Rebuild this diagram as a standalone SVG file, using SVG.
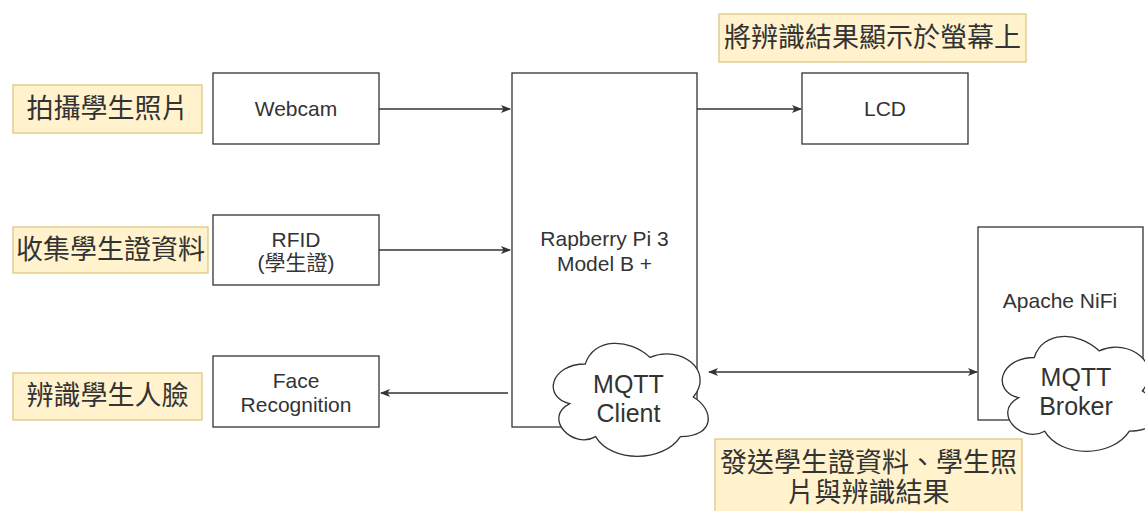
<svg xmlns="http://www.w3.org/2000/svg" width="1145" height="511" viewBox="0 0 1145 511">
<style>
.box{fill:#ffffff;stroke:#333333;stroke-width:1.3}
.note{fill:#fff2cc;stroke:#dcc27a;stroke-width:1.2}
.cloud{fill:#ffffff;stroke:#333333;stroke-width:1.3}
.t{font-family:"Liberation Sans","Noto Sans CJK TC",sans-serif;fill:#333333;text-anchor:middle;dominant-baseline:central}
.en{font-size:21px}
.mq{font-size:25px}
.zh{font-size:27px}
.edge{fill:none;stroke:#333333;stroke-width:1.3}
</style>
<defs>
<marker id="arr" markerWidth="10" markerHeight="8" refX="9" refY="4" orient="auto" markerUnits="userSpaceOnUse">
<path d="M0,0 L10,4 L0,8 L2.5,4 Z" fill="#333333"/>
</marker>
<marker id="arrs" markerWidth="10" markerHeight="8" refX="1" refY="4" orient="auto" markerUnits="userSpaceOnUse">
<path d="M10,0 L0,4 L10,8 L7.5,4 Z" fill="#333333"/>
</marker>
</defs>
<rect width="1145" height="511" fill="#ffffff"/>

<g id="connectors">
<line class="edge" x1="379" y1="109" x2="510" y2="109" marker-end="url(#arr)"/>
<line class="edge" x1="379" y1="250" x2="510" y2="250" marker-end="url(#arr)"/>
<line class="edge" x1="508" y1="393" x2="381" y2="393" marker-end="url(#arr)"/>
<line class="edge" x1="697" y1="109" x2="801" y2="109" marker-end="url(#arr)"/>
<line class="edge" x1="709" y1="372" x2="977" y2="372" marker-start="url(#arrs)" marker-end="url(#arr)"/>
</g>

<g id="note-photo">
<rect class="note" x="13" y="85" width="189" height="48"/>
<text class="t zh" x="107.5" y="109">拍攝學生照片</text>
</g>
<g id="note-rfid">
<rect class="note" x="13" y="227" width="195" height="46"/>
<text class="t zh" x="110.5" y="250">收集學生證資料</text>
</g>
<g id="note-face">
<rect class="note" x="13" y="373" width="189" height="47"/>
<text class="t zh" x="107.5" y="396">辨識學生人臉</text>
</g>
<g id="note-lcd">
<rect class="note" x="719" y="14" width="307" height="48"/>
<text class="t zh" x="872.5" y="38">將辨識結果顯示於螢幕上</text>
</g>
<g id="note-send">
<rect class="note" x="715" y="439" width="307" height="80"/>
<text class="t zh" x="868.5" y="463">發送學生證資料、學生照</text>
<text class="t zh" x="868.5" y="493">片與辨識結果</text>
</g>

<g id="webcam">
<rect class="box" x="213" y="73" width="166" height="71"/>
<text class="t en" x="296" y="108">Webcam</text>
</g>
<g id="rfid">
<rect class="box" x="213" y="215" width="166" height="70"/>
<text class="t en" x="296" y="239">RFID</text>
<text class="t en" x="296" y="262">(學生證)</text>
</g>
<g id="face">
<rect class="box" x="213" y="356" width="166" height="71"/>
<text class="t en" x="296" y="380">Face</text>
<text class="t en" x="296" y="404">Recognition</text>
</g>
<g id="pi">
<rect class="box" x="512" y="73" width="185" height="354"/>
<text class="t en" x="604.5" y="238">Rapberry Pi 3</text>
<text class="t en" x="604.5" y="263">Model B +</text>
</g>
<g id="lcd">
<rect class="box" x="802" y="73" width="166" height="71"/>
<text class="t en" x="885" y="108">LCD</text>
</g>
<g id="nifi">
<rect class="box" x="978" y="227" width="165" height="193"/>
<text class="t en" x="1060" y="300">Apache NiFi</text>
</g>
<g id="mqtt-client">
<path class="cloud" d="M585.25,364 C550.65,364 542,397 569.68,403.6 C542,418.12 573.14,449.8 595.63,436.6 C611.2,463 663.1,463 680.4,436.6 C715,436.6 715,410.2 693.375,397 C715,370.6 680.4,344.2 650.125,357.4 C628.5,337.6 593.9,337.6 585.25,364 Z"/>
<text class="t mq" x="628.5" y="384">MQTT</text>
<text class="t mq" x="628.5" y="413">Client</text>
</g>
<g id="mqtt-broker">
<path class="cloud" d="M1034.25,357.5 C999.65,357.5 991,391 1018.68,397.7 C991,412.44 1022.14,444.6 1044.63,431.2 C1060.2,458 1112.1,458 1129.4,431.2 C1164,431.2 1164,404.4 1142.375,391 C1164,364.2 1129.4,337.4 1099.125,350.8 C1077.5,330.7 1042.9,330.7 1034.25,357.5 Z"/>
<text class="t mq" x="1076" y="377">MQTT</text>
<text class="t mq" x="1076" y="406">Broker</text>
</g>
</svg>
